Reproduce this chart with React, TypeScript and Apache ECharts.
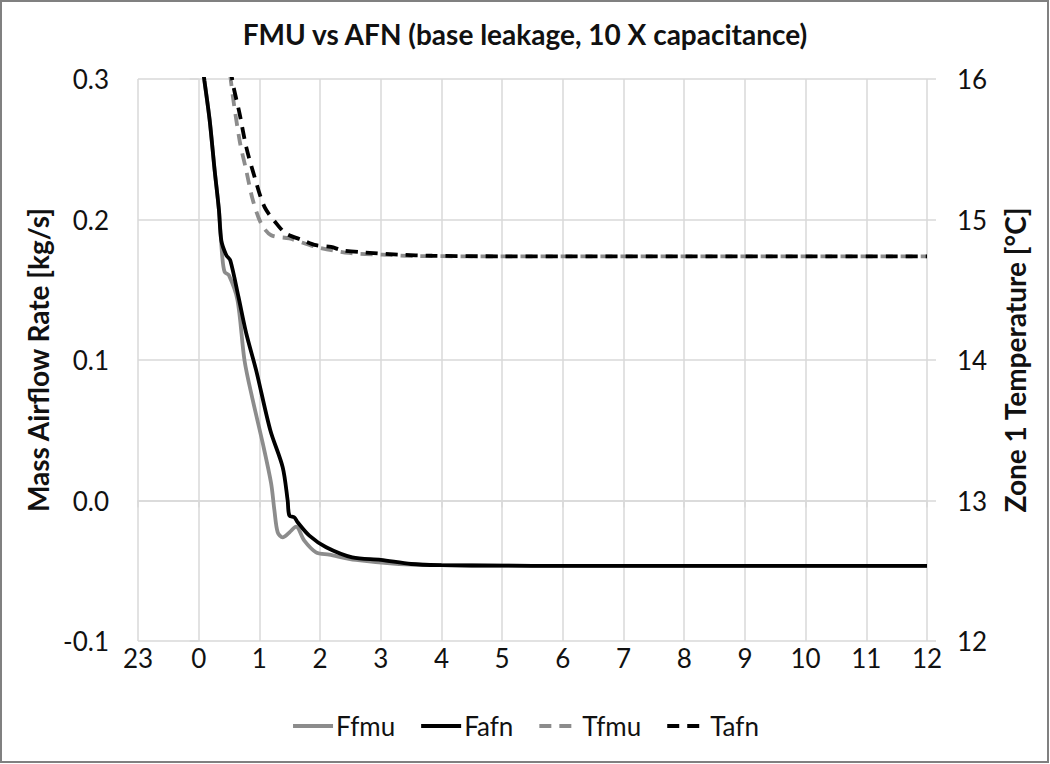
import { useEffect, useRef } from "react";
import * as echarts from "echarts";

// Hour labels on the x axis (23:00 of the previous day, then 0..12)
const hourLabels = ["23", "0", "1", "2", "3", "4", "5", "6", "7", "8", "9", "10", "11", "12"];

// Ffmu – mass airflow rate, FMU [kg/s]
const ffmuHours = [0, 0.094, 0.18, 0.263, 0.333, 0.389, 0.427, 0.498, 0.64, 0.755, 0.892, 1.056, 1.194, 1.248, 1.302, 1.384, 1.494, 1.604, 1.74, 1.933, 2.15, 2.59, 3.3, 4.0, 5, 6, 8, 10, 12];
const ffmuValues = [0.33, 0.299, 0.271, 0.235, 0.207, 0.1733, 0.1627, 0.1603, 0.1425, 0.0997, 0.0712, 0.0406, 0.012, -0.0072, -0.0227, -0.0262, -0.0227, -0.0186, -0.0286, -0.0369, -0.0386, -0.0423, -0.0452, -0.046, -0.0464, -0.0465, -0.0465, -0.0465, -0.0465];

// Fafn – mass airflow rate, AFN [kg/s]
const fafnHours = [0, 0.094, 0.18, 0.263, 0.333, 0.373, 0.455, 0.52, 0.655, 0.783, 0.947, 1.18, 1.384, 1.466, 1.494, 1.576, 1.63, 1.823, 2.1, 2.53, 3.0, 3.5, 4.0, 5, 6, 8, 10, 12];
const fafnValues = [0.33, 0.299, 0.271, 0.235, 0.207, 0.185, 0.1746, 0.171, 0.145, 0.119, 0.0926, 0.05, 0.0237, 0.0, -0.0108, -0.012, -0.0155, -0.025, -0.0333, -0.0405, -0.0423, -0.0452, -0.046, -0.0464, -0.0465, -0.0465, -0.0465, -0.0465];

// Tfmu – zone 1 temperature, FMU [°C]
const tfmuHours = [0.4, 0.53, 0.673, 0.783, 0.892, 1.03, 1.194, 1.494, 1.933, 2.48, 3.03, 3.57, 5, 6, 8, 10, 12];
const tfmuValues = [16.6, 15.99, 15.565, 15.35, 15.138, 14.97, 14.888, 14.865, 14.805, 14.762, 14.75, 14.74, 14.738, 14.738, 14.738, 14.738, 14.738];

// Tafn – zone 1 temperature, AFN [°C]
const tafnHours = [0.4, 0.553, 0.673, 0.783, 0.92, 1.084, 1.302, 1.44, 1.713, 1.933, 2.18, 2.37, 2.75, 3.3, 3.85, 5, 6, 8, 10, 12];
const tafnValues = [16.5, 15.993, 15.756, 15.517, 15.304, 15.09, 14.96, 14.9, 14.853, 14.817, 14.805, 14.78, 14.765, 14.75, 14.742, 14.738, 14.738, 14.738, 14.738, 14.738];

const zip = (xs: number[], ys: number[]) => xs.map((x, i) => [x, ys[i]]);

const FONT = "Lato";
const GRID = "#d9d9d9";
const GRAY = "#8c8c8c";

export default function App() {
  const ref = useRef<HTMLDivElement>(null);
  useEffect(() => {
    if (!ref.current) return;
    const chart = echarts.init(ref.current, null, { renderer: "svg" });
    const dash = [12, 8];
    const common = {
      type: "line",
      showSymbol: false,
      symbol: "none",
      smooth: 0.3,
      clip: true,
    };
    chart.setOption({
      animation: false,
      backgroundColor: "#ffffff",
      textStyle: { fontFamily: FONT },
      title: {
        text: "FMU vs AFN (base leakage, 10 X capacitance)",
        left: "center",
        top: 15,
        textStyle: { fontFamily: FONT, fontWeight: "bold", fontSize: 28, color: "#111" },
      },
      graphic: [
        {
          type: "rect",
          shape: { x: 1, y: 1, width: 1047, height: 761 },
          style: { fill: "none", stroke: "#808080", lineWidth: 2 },
          silent: true,
        },
      ],
      grid: { left: 138, right: 123, top: 79, bottom: 123 },
      legend: {
        bottom: 20,
        left: "center",
        itemWidth: 40,
        itemHeight: 14,
        itemGap: 24,
        itemStyle: { opacity: 0 },
        lineStyle: { width: 4 },
        textStyle: { fontFamily: FONT, fontSize: 26, color: "#111", padding: [0, 0, 0, -2] },
        data: ["Ffmu", "Fafn", "Tfmu", "Tafn"],
      },
      xAxis: {
        type: "value",
        min: -1,
        max: 12,
        interval: 1,
        axisLine: { show: true, lineStyle: { color: GRID, width: 1.5 } },
        axisTick: { show: true, length: 7, lineStyle: { color: GRID, width: 1.5 } },
        splitLine: { show: true, lineStyle: { color: GRID, width: 1.5 } },
        axisLabel: {
          margin: 4,
          fontFamily: FONT,
          fontSize: 26,
          color: "#111",
          formatter: (v: number) => hourLabels[Math.round(v) + 1],
        },
      },
      yAxis: [
        {
          type: "value",
          min: -0.1,
          max: 0.3,
          interval: 0.1,
          position: "left",
          name: "Mass Airflow Rate [kg/s]",
          nameLocation: "middle",
          nameGap: 84,
          nameRotate: 90,
          nameTextStyle: { fontFamily: FONT, fontWeight: "bold", fontSize: 28, color: "#111" },
          axisLine: { show: false },
          axisTick: { show: true, length: 9, lineStyle: { color: GRID, width: 1.5 } },
          splitLine: { show: true, lineStyle: { color: GRID, width: 1.5 } },
          axisLabel: {
            margin: 29,
            fontFamily: FONT,
            fontSize: 26,
            color: "#111",
            formatter: (v: number) => v.toFixed(1),
          },
        },
        {
          type: "value",
          min: 12,
          max: 16,
          interval: 1,
          position: "right",
          name: "Zone 1 Temperature [°C]",
          nameLocation: "middle",
          nameGap: 74,
          nameRotate: 90,
          nameTextStyle: { fontFamily: FONT, fontWeight: "bold", fontSize: 28, color: "#111" },
          axisLine: { show: false },
          axisTick: { show: true, length: 9, lineStyle: { color: GRID, width: 1.5 } },
          splitLine: { show: false },
          axisLabel: {
            margin: 30,
            fontFamily: FONT,
            fontSize: 26,
            color: "#111",
          },
        },
      ],
      series: [
        {
          ...common,
          name: "Ffmu",
          yAxisIndex: 0,
          data: zip(ffmuHours, ffmuValues),
          color: GRAY,
          lineStyle: { color: GRAY, width: 3.8 },
        },
        {
          ...common,
          name: "Fafn",
          yAxisIndex: 0,
          data: zip(fafnHours, fafnValues),
          color: "#000",
          lineStyle: { color: "#000", width: 3.8 },
        },
        {
          ...common,
          name: "Tfmu",
          yAxisIndex: 1,
          data: zip(tfmuHours, tfmuValues),
          color: GRAY,
          lineStyle: { color: GRAY, width: 3.8, type: dash },
        },
        {
          ...common,
          name: "Tafn",
          yAxisIndex: 1,
          data: zip(tafnHours, tafnValues),
          color: "#000",
          lineStyle: { color: "#000", width: 3.8, type: dash },
        },
      ],
    });
    return () => chart.dispose();
  }, []);
  return (
    <div
      ref={ref}
      style={{ position: "fixed", left: 0, top: 0, width: 1050, height: 764, background: "#fff" }}
    />
  );
}
